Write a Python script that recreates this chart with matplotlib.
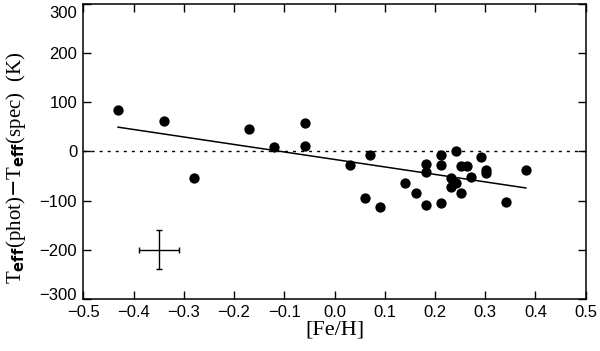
import matplotlib
matplotlib.use('Agg')
import matplotlib.pyplot as plt
import matplotlib.transforms as mtransforms
import numpy as np


# [Fe/H] and Teff(phot) - Teff(spec) for each star
feh = [-0.431, -0.340, -0.280, -0.170, -0.120, -0.059, -0.059, 0.031, 0.071,
       0.061, 0.091, 0.140, 0.162, 0.182, 0.182, 0.182, 0.212, 0.212, 0.212,
       0.241, 0.231, 0.231, 0.242, 0.251, 0.263, 0.251, 0.271, 0.292, 0.302,
       0.302, 0.342, 0.381]
dteff = [83, 62, -54, 46, 8, 58, 10, -28, -7,
         -95, -114, -64, -84, -26, -43, -110, -7, -27, -105,
         1, -54, -72, -65, -30, -30, -84, -53, -11, -38,
         -45, -103, -38]

# typical error bar
err_x, err_y = -0.35, -200
err_dx, err_dy = 0.04, 40

xticks = [-0.5, -0.4, -0.3, -0.2, -0.1, 0.0, 0.1, 0.2, 0.3, 0.4, 0.5]
yticks = [-300, -200, -100, 0, 100, 200, 300]


def fmt_tick(txt):
    return txt.replace('-', '\u2212')


plt.rcParams['lines.scale_dashes'] = False

fig = plt.figure(figsize=(6.0, 3.51), dpi=100)
ax = fig.add_axes([0.139, 0.148, 0.837, 0.842])

ax.scatter(feh, dteff, s=55, color='black', zorder=3, linewidths=0)

# linear fit
coef = np.polyfit(feh, dteff, 1)
xfit = np.array([min(feh), max(feh)])
ax.plot(xfit, np.polyval(coef, xfit), color='black', lw=1.1)

ax.axhline(0, color='black', lw=1.0, dashes=(2.2, 3.6))

ax.errorbar([err_x], [err_y], xerr=[err_dx], yerr=[err_dy], fmt='none',
            ecolor='black', elinewidth=1.0, capsize=2.5, capthick=1.0)

ax.set_xlim(-0.5, 0.5)
ax.set_ylim(-300, 300)
ax.set_xticks(xticks)
ax.set_yticks(yticks)
ax.set_xticklabels([fmt_tick('%.1f' % v) for v in xticks])
ax.set_yticklabels([fmt_tick('%d' % v) for v in yticks])

ax.tick_params(direction='in', length=6, width=1.0, top=True, right=True,
               labelsize=12, pad=4.5)
for lab in ax.get_xticklabels() + ax.get_yticklabels():
    lab.set_family('Liberation Sans')

# nudge the end labels inward, like the original
ylabs = ax.get_yticklabels()
ylabs[-1].set_transform(ylabs[-1].get_transform() +
                        mtransforms.ScaledTranslation(0, -6 / 72, fig.dpi_scale_trans))
ylabs[0].set_transform(ylabs[0].get_transform() +
                       mtransforms.ScaledTranslation(0, 3.5 / 72, fig.dpi_scale_trans))

for sp in ax.spines.values():
    sp.set_linewidth(1.1)

ax.set_xlabel('[Fe/H]', family='Liberation Serif', fontsize=16, labelpad=0)
ax.set_ylabel(r'T$_{\mathbf{eff}}$(phot)$-$T$_{\mathbf{eff}}$(spec)  (K)',
              family='Liberation Serif', fontsize=15)
ax.yaxis.set_label_coords(-0.11, 0.443)

fig.savefig('out.png', dpi=100)
